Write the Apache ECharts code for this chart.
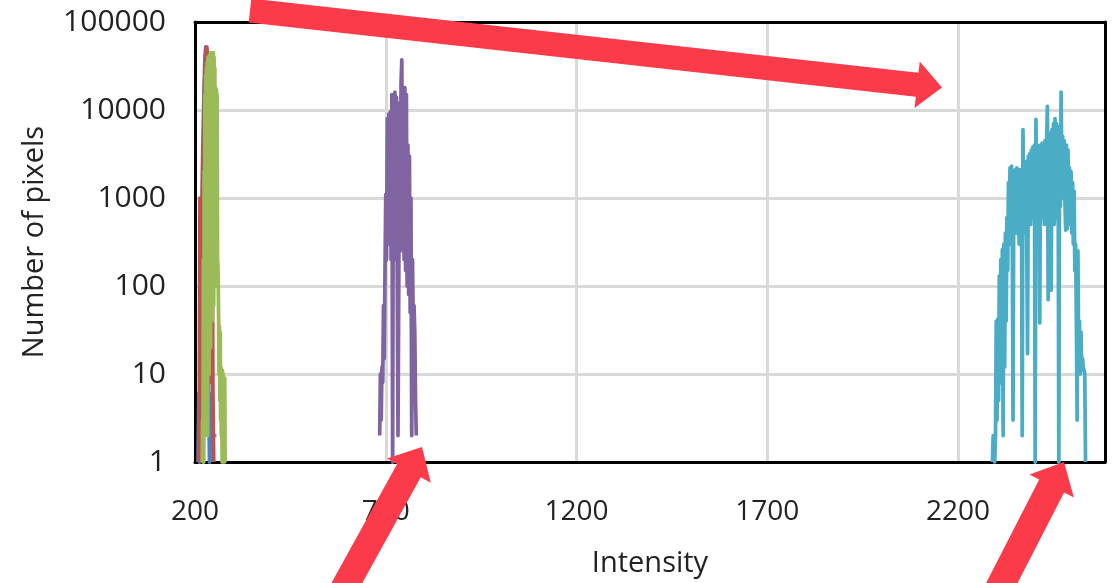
<!DOCTYPE html>
<html>
<head>
<meta charset="utf-8">
<script src="https://cdn.jsdelivr.net/npm/echarts@6/dist/echarts.min.js"></script>
<style>html,body{margin:0;padding:0;background:#fff}#c{width:1119px;height:583px}</style>
</head>
<body>
<div id="c"></div>
<script>
// ---- data (intensity, number of pixels) ----
const xTicks = [200, 700, 1200, 1700, 2200];
const yTicks = [1, 10, 100, 1000, 10000, 100000];

const blueSeries = [[208,1],[210,6],[212,1],[214,6],[216,60],[218,600],[220,3000],[222,8000],[224,20000],[226,40000],[228,52000],[230,30000],[232,8000],[234,800],[236,6],[238,1],[240,6],[242,1],['-','-'],[253,2],[256,2]];
const redSeries = [[211,1],[213,1000],[215,6],[217,300],[219,800],[221,3000],[223,6000],[225,20000],[227,30000],[229,45000],[231,52000],[233,40000],[235,15000],[237,2000],[239,25],[241,1000],[243,8],[245,1000],[247,6],[249,1]];
const greenSeries = [[219,1],[220,3],[221,1],[222,200],[223,1],[224,2000],[225,2],[226,15000],[227,5],[228,25000],[229,3],[230,30000],[231,10],[232,35000],[233,2],[234,40000],[235,30],[236,38000],[237,10],[238,42000],[239,50],[240,40000],[241,20],[242,45000],[243,100],[244,44000],[245,40],[246,42000],[247,200],[248,45000],[249,60],[250,40000],[251,300],[252,30000],[253,100],[254,18000],[255,500],[256,17000],[257,200],[258,15000],[259,200],[260,180],[261,100],[262,40],[263,10],[264,35],[265,5],[266,30],[267,3],[268,12],[269,2],[270,10],[271,1],[272,11],[273,2],[274,10],[275,1],[276,9],[277,1],[278,9],[279,1]];
const purpleSeries = [[684,2],[686,10],[688,3],[690,12],[692,8],[694,60],[696,15],[698,150],[700,1100],[702,200],[704,8000],[706,300],[708,9000],[710,400],[712,9500],[714,200],[716,15000],[718,1],[720,15000],[722,300],[724,16000],[726,200],[728,14000],[730,150],[732,2],[734,100],[736,12000],[738,250],[740,20000],[742,37000],[744,300],[746,16000],[748,200],[750,18000],[752,150],[754,15000],[756,100],[758,4000],[760,80],[762,3000],[764,50],[766,1000],[768,2],[770,200],[772,35],[774,60],[776,30],[778,5],[780,2]];
const cyanSeries = [[2290,1],[2292,2],[2294,2],[2296,1],[2298,2],[2300,40],[2302,3],[2304,42],[2306,5],[2308,130],[2310,8],[2312,200],[2314,10],[2316,260],[2318,2],[2320,300],[2322,12],[2324,400],[2326,40],[2328,600],[2330,150],[2332,1500],[2334,300],[2336,2200],[2338,600],[2340,2300],[2342,400],[2344,3],[2346,2000],[2348,500],[2350,2100],[2352,400],[2354,2200],[2356,600],[2358,1900],[2360,300],[2362,2100],[2364,500],[2366,2000],[2368,2],[2370,6000],[2372,400],[2374,2500],[2376,800],[2378,2600],[2380,300],[2382,17],[2384,3000],[2386,600],[2388,3200],[2390,500],[2392,3500],[2394,700],[2396,3800],[2398,600],[2400,4000],[2402,1],[2404,7800],[2406,900],[2408,4000],[2410,700],[2412,3800],[2414,38],[2416,4000],[2418,600],[2420,4200],[2422,800],[2424,4000],[2426,500],[2428,4500],[2430,900],[2432,4200],[2434,11000],[2436,70],[2438,5000],[2440,700],[2442,5500],[2444,90],[2446,6000],[2448,800],[2450,7000],[2452,500],[2454,8000],[2456,1000],[2458,7000],[2460,600],[2462,6500],[2464,1],[2466,5000],[2468,800],[2470,16000],[2472,1500],[2474,5000],[2476,1000],[2478,4500],[2480,900],[2482,430],[2484,4000],[2486,450],[2488,3500],[2490,600],[2492,2200],[2494,500],[2496,2000],[2498,400],[2500,1500],[2502,300],[2504,1200],[2506,150],[2508,300],[2510,40],[2512,3],[2514,250],[2516,12],[2518,40],[2520,10],[2522,30],[2524,12],[2526,15],[2528,12],[2530,12],[2532,10],[2534,1]];

const seriesColors = ['#4F81BD', '#C0504D', '#9BBB59', '#8064A2', '#4BACC6'];
const allSeries = [blueSeries, redSeries, greenSeries, purpleSeries, cyanSeries];

// ---- annotation arrows ----
function arrowPoints(tx, ty, hx, hy, sw, hw, hl) {
  const dx = hx - tx, dy = hy - ty, L = Math.hypot(dx, dy);
  const ux = dx / L, uy = dy / L, px = -uy, py = ux;
  const bx = hx - ux * hl, by = hy - uy * hl;
  return [
    [tx + px * sw / 2, ty + py * sw / 2],
    [bx + px * sw / 2, by + py * sw / 2],
    [bx + px * hw / 2, by + py * hw / 2],
    [hx, hy],
    [bx - px * hw / 2, by - py * hw / 2],
    [bx - px * sw / 2, by - py * sw / 2],
    [tx - px * sw / 2, ty - py * sw / 2]
  ];
}
const arrowColor = '#FB3A4A';
const arrows = [
  arrowPoints(250, 10.5, 942, 87.5, 24, 47, 25),
  arrowPoints(332.5, 609, 422, 447, 27, 50, 27),
  arrowPoints(988, 610, 1064, 462, 28, 50, 27)
];

const font = 'Open Sans';
const chart = echarts.init(document.getElementById('c'), null, {renderer: 'canvas'});
chart.setOption({
  animation: false,
  backgroundColor: '#fff',
  grid: {left: 195, right: 14, top: 22, bottom: 113, containLabel: false},
  xAxis: [{
    type: 'value', min: xTicks[0], max: 2585, interval: xTicks[1] - xTicks[0],
    name: 'Intensity', nameLocation: 'middle', nameGap: 87,
    nameTextStyle: {fontFamily: font, fontSize: 29, color: '#222'},
    axisLine: {show: true, onZero: false, lineStyle: {color: '#000', width: 3}},
    axisTick: {show: false},
    axisLabel: {fontFamily: font, fontSize: 28, color: '#222', margin: 36, showMaxLabel: false,
      formatter: v => xTicks.indexOf(v) >= 0 ? String(v) : ''},
    splitLine: {show: true, lineStyle: {color: '#D9D9D9', width: 3}}
  }, {
    type: 'value', position: 'top', min: xTicks[0], max: 2585,
    axisLine: {show: true, onZero: false, lineStyle: {color: '#000', width: 3}},
    axisTick: {show: false}, axisLabel: {show: false}, splitLine: {show: false}
  }],
  yAxis: [{
    type: 'log', logBase: 10, min: yTicks[0], max: yTicks[yTicks.length - 1],
    name: 'Number of pixels', nameLocation: 'middle', nameGap: 146,
    nameTextStyle: {fontFamily: font, fontSize: 29, color: '#222'},
    axisLine: {show: true, onZero: false, lineStyle: {color: '#000', width: 3}},
    axisTick: {show: false},
    axisLabel: {fontFamily: font, fontSize: 30, color: '#222', margin: 29,
      formatter: v => String(v)},
    splitLine: {show: true, lineStyle: {color: '#D9D9D9', width: 3}}
  }, {
    type: 'log', logBase: 10, min: yTicks[0], max: yTicks[yTicks.length - 1], position: 'right',
    axisLine: {show: true, onZero: false, lineStyle: {color: '#000', width: 3}},
    axisTick: {show: false}, axisLabel: {show: false}, splitLine: {show: false}
  }],
  series: allSeries.map((d, i) => ({
    type: 'line', data: d, xAxisIndex: 0, yAxisIndex: 0,
    showSymbol: false, symbol: 'none', connectNulls: false,
    lineStyle: {color: seriesColors[i], width: 3.75, join: 'round'},
    itemStyle: {color: seriesColors[i]}, z: 3 + i
  })),
  graphic: arrows.map(p => ({
    type: 'polygon', z: 100, shape: {points: p}, style: {fill: arrowColor}
  }))
});
</script>
</body>
</html>
